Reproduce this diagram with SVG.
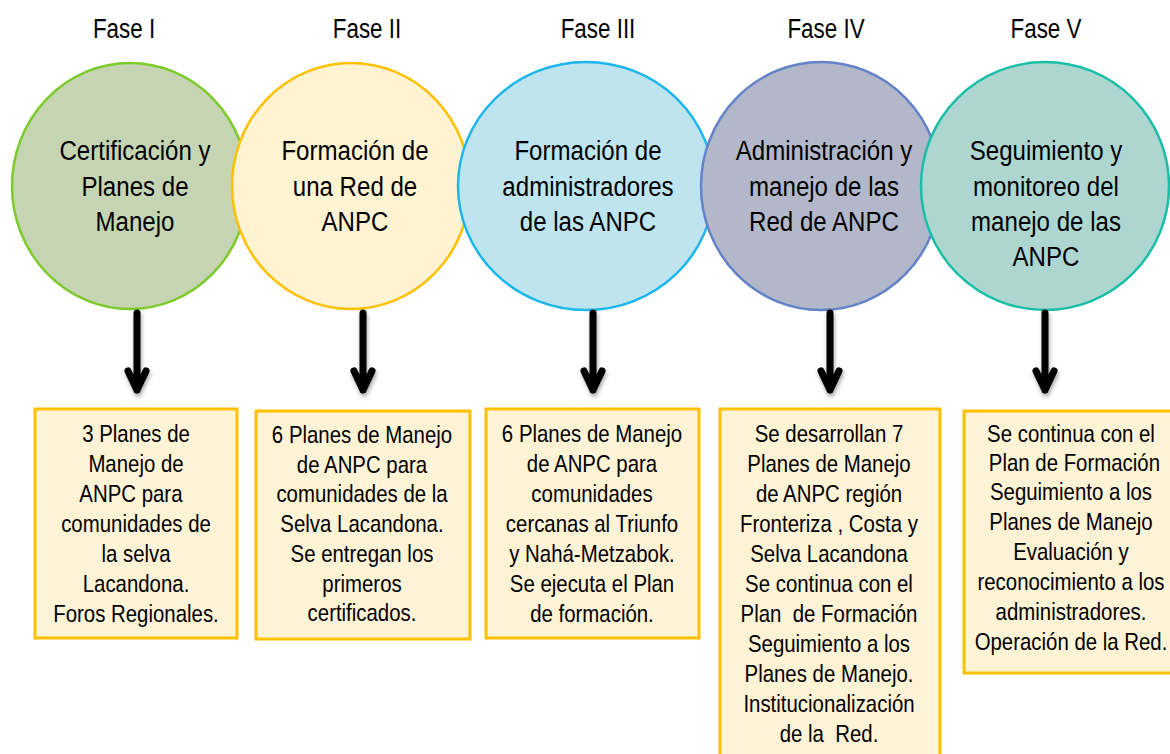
<svg xmlns="http://www.w3.org/2000/svg" width="1170" height="754" viewBox="0 0 1170 754">
<style>
text{font-family:"Liberation Sans",Arial,sans-serif;fill:#000;text-anchor:middle}
.h{font-size:28px}
.c{font-size:28px}
.b{font-size:24px}
.box{fill:#FFF3D6;stroke:#FFC000;stroke-width:3}
.arr{fill:none;stroke:#000;stroke-width:7;stroke-linecap:round;stroke-linejoin:round}
</style>
<defs>
<filter id="sh" x="-50%" y="-20%" width="200%" height="150%">
<feDropShadow dx="1" dy="3" stdDeviation="2" flood-color="#000" flood-opacity="0.35"/>
</filter>
</defs>
<rect width="1170" height="754" fill="#fff"/>

<g id="headers">
<g transform="translate(124,0) scale(0.8,1)"><text class="h" x="0" y="38">Fase I</text></g>
<g transform="translate(367,0) scale(0.8,1)"><text class="h" x="0" y="38">Fase II</text></g>
<g transform="translate(598,0) scale(0.8,1)"><text class="h" x="0" y="38">Fase III</text></g>
<g transform="translate(826,0) scale(0.8,1)"><text class="h" x="0" y="38">Fase IV</text></g>
<g transform="translate(1046,0) scale(0.8,1)"><text class="h" x="0" y="38">Fase V</text></g>
</g>

<g id="fase1">
<ellipse cx="130" cy="186" rx="118" ry="123" fill="#C5D5B3" stroke="#7DCB2A" stroke-width="2.5"/>
<g transform="translate(135,0) scale(0.86,1)">
<text class="c" x="0" y="160">Certificación y</text>
<text class="c" x="0" y="196">Planes de</text>
<text class="c" x="0" y="231">Manejo</text>
</g>
</g>
<g id="fase2">
<ellipse cx="351" cy="186" rx="119" ry="123" fill="#FFF3D1" stroke="#FFC000" stroke-width="2.5"/>
<g transform="translate(355,0) scale(0.86,1)">
<text class="c" x="0" y="160">Formación de</text>
<text class="c" x="0" y="196">una Red de</text>
<text class="c" x="0" y="231">ANPC</text>
</g>
</g>
<g id="fase3">
<ellipse cx="586" cy="186" rx="128" ry="124" fill="#BEE4EF" stroke="#1CB5EC" stroke-width="2.5"/>
<g transform="translate(588,0) scale(0.86,1)">
<text class="c" x="0" y="160">Formación de</text>
<text class="c" x="0" y="196">administradores</text>
<text class="c" x="0" y="231">de las ANPC</text>
</g>
</g>
<g id="fase4">
<ellipse cx="821" cy="186" rx="120" ry="124" fill="#B2B8C9" stroke="#6382C8" stroke-width="2.5"/>
<g transform="translate(824,0) scale(0.86,1)">
<text class="c" x="0" y="160">Administración y</text>
<text class="c" x="0" y="196">manejo de las</text>
<text class="c" x="0" y="231">Red de ANPC</text>
</g>
</g>
<g id="fase5">
<ellipse cx="1045" cy="186" rx="124" ry="124" fill="#AED6D1" stroke="#18BFA6" stroke-width="2.5"/>
<g transform="translate(1046,0) scale(0.86,1)">
<text class="c" x="0" y="160">Seguimiento y</text>
<text class="c" x="0" y="196">monitoreo del</text>
<text class="c" x="0" y="231">manejo de las</text>
<text class="c" x="0" y="266">ANPC</text>
</g>
</g>

<g id="connectors" filter="url(#sh)">
<path class="arr" d="M137,313 V390 M128,371 L137,390 L146,371"/>
<path class="arr" d="M363,313 V390 M354,371 L363,390 L372,371"/>
<path class="arr" d="M593,313 V390 M584,371 L593,390 L602,371"/>
<path class="arr" d="M830,313 V390 M821,371 L830,390 L839,371"/>
<path class="arr" d="M1045,313 V390 M1036,371 L1045,390 L1054,371"/>
</g>

<g id="box1">
<rect class="box" x="35" y="409" width="202" height="229"/>
<g transform="translate(136,0) scale(0.85,1)">
<text class="b" x="0" y="442">3 Planes de</text>
<text class="b" x="0" y="472">Manejo de</text>
<text class="b" x="-6" y="502">ANPC para</text>
<text class="b" x="0" y="532">comunidades de</text>
<text class="b" x="0" y="562">la selva</text>
<text class="b" x="0" y="592">Lacandona.</text>
<text class="b" x="0" y="622">Foros Regionales.</text>
</g>
</g>
<g id="box2">
<rect class="box" x="256" y="411" width="214" height="228"/>
<g transform="translate(362,0) scale(0.85,1)">
<text class="b" x="0" y="443">6 Planes de Manejo</text>
<text class="b" x="0" y="473">de ANPC para</text>
<text class="b" x="0" y="502">comunidades de la</text>
<text class="b" x="0" y="532">Selva Lacandona.</text>
<text class="b" x="0" y="562">Se entregan los</text>
<text class="b" x="0" y="592">primeros</text>
<text class="b" x="0" y="621">certificados.</text>
</g>
</g>
<g id="box3">
<rect class="box" x="486" y="409" width="213" height="229"/>
<g transform="translate(592,0) scale(0.85,1)">
<text class="b" x="0" y="442">6 Planes de Manejo</text>
<text class="b" x="0" y="472">de ANPC para</text>
<text class="b" x="0" y="502">comunidades</text>
<text class="b" x="0" y="532">cercanas al Triunfo</text>
<text class="b" x="0" y="562">y Nahá-Metzabok.</text>
<text class="b" x="0" y="592">Se ejecuta el Plan</text>
<text class="b" x="0" y="622">de formación.</text>
</g>
</g>
<g id="box4">
<rect class="box" x="720" y="409" width="220" height="360"/>
<g transform="translate(829,0) scale(0.85,1)">
<text class="b" x="0" y="442">Se desarrollan 7</text>
<text class="b" x="0" y="472">Planes de Manejo</text>
<text class="b" x="0" y="502">de ANPC región</text>
<text class="b" x="0" y="532">Fronteriza , Costa y</text>
<text class="b" x="0" y="562">Selva Lacandona</text>
<text class="b" x="0" y="592">Se continua con el</text>
<text class="b" x="0" y="622" xml:space="preserve">Plan  de Formación</text>
<text class="b" x="0" y="652">Seguimiento a los</text>
<text class="b" x="0" y="682">Planes de Manejo.</text>
<text class="b" x="0" y="712">Institucionalización</text>
<text class="b" x="0" y="742" xml:space="preserve">de la  Red.</text>
</g>
</g>
<g id="box5">
<rect class="box" x="964" y="411" width="220" height="262"/>
<g transform="translate(1071,0) scale(0.85,1)">
<text class="b" x="0" y="442">Se continua con el</text>
<text class="b" x="4" y="471">Plan de Formación</text>
<text class="b" x="0" y="500">Seguimiento a los</text>
<text class="b" x="0" y="530">Planes de Manejo</text>
<text class="b" x="0" y="560">Evaluación y</text>
<text class="b" x="0" y="590">reconocimiento a los</text>
<text class="b" x="0" y="620">administradores.</text>
<text class="b" x="0" y="650">Operación de la Red.</text>
</g>
</g>
</svg>
